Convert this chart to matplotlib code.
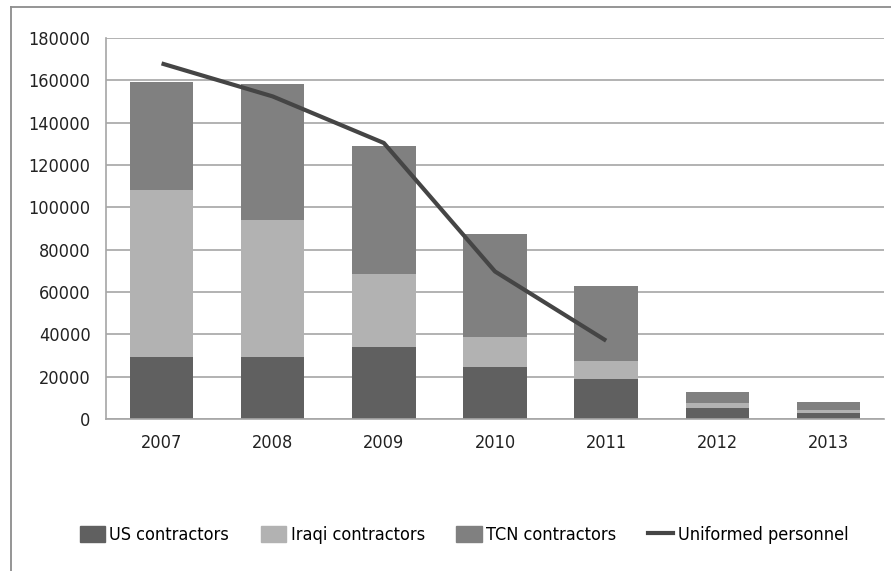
import matplotlib

matplotlib.use("Agg")
import matplotlib.pyplot as plt
import numpy as np
from matplotlib.lines import Line2D
from matplotlib.patches import Patch

years = ["2007", "2008", "2009", "2010", "2011", "2012", "2013"]
us_contractors = [29300, 29300, 34000, 24400, 18900, 5000, 2800]
iraqi_contractors = [78700, 64900, 34650, 14500, 8600, 2500, 1600]
tcn_contractors = [51000, 64100, 60150, 48500, 35100, 5200, 3600]
uniformed_years = ["2007", "2008", "2009", "2010", "2011"]
uniformed = [168000, 152400, 130400, 69700, 37000]

plt.rcParams["font.family"] = ["DejaVu Sans"]
plt.rcParams["font.stretch"] = "condensed"

fig = plt.figure(figsize=(8.91, 5.71), dpi=100)
ax = fig.add_axes([106 / 891, 1 - 419 / 571, 778 / 891, 381 / 571])

x = np.arange(len(years))
us = np.array(us_contractors)
iq = np.array(iraqi_contractors)
tcn = np.array(tcn_contractors)
w = 0.57
ax.bar(x, us, w, color="#606060", zorder=2)
ax.bar(x, iq, w, bottom=us, color="#b2b2b2", zorder=2)
ax.bar(x, tcn, w, bottom=us + iq, color="#808080", zorder=2)

ux = [years.index(y) for y in uniformed_years]
ax.plot(ux, uniformed, color="#454545", lw=3.0, zorder=3, solid_capstyle="butt")

ax.set_xlim(-0.5, len(years) - 0.5)
ax.set_ylim(0, 180000)
ax.set_yticks(np.arange(0, 180001, 20000))
ax.set_xticks(x)
ax.set_xticklabels(years)
ax.yaxis.grid(True, color="#a6a6a6", lw=1.2, zorder=0)
ax.tick_params(length=0, labelsize=13, colors="#222222", pad=11)
ax.tick_params(axis="y", pad=11)
for s in ("top", "right"):
    ax.spines[s].set_visible(False)
ax.spines["left"].set_color("#a6a6a6")
ax.spines["bottom"].set_color("#a6a6a6")
ax.spines["left"].set_linewidth(1.2)
ax.spines["bottom"].set_linewidth(1.2)

# outer chart frame (top and left edges)
fig.add_artist(Line2D([11 / 891, 11 / 891], [0, 1 - 7 / 571], color="#8c8c8c", lw=1.3))
fig.add_artist(Line2D([11 / 891, 1], [1 - 7 / 571, 1 - 7 / 571], color="#8c8c8c", lw=1.3))

handles = [
    Patch(color="#606060", label="US contractors"),
    Patch(color="#b2b2b2", label="Iraqi contractors"),
    Patch(color="#808080", label="TCN contractors"),
    Line2D([], [], color="#454545", lw=3.0, label="Uniformed personnel"),
]
fig.legend(
    handles=handles,
    loc="center",
    bbox_to_anchor=(464 / 891, 1 - 535 / 571),
    ncol=4,
    frameon=False,
    fontsize=13,
    handlelength=1.4,
    handleheight=1.0,
    handletextpad=0.25,
    columnspacing=1.75,
)

fig.savefig("out.png", dpi=100)
